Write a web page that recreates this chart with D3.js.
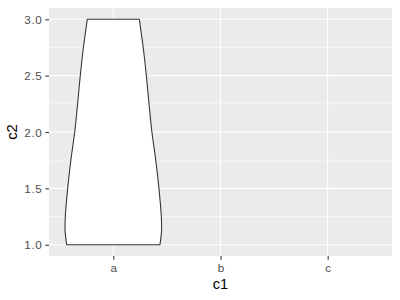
<!DOCTYPE html>
<html>
<head>
<meta charset="utf-8">
<script src="https://cdn.jsdelivr.net/npm/d3@7"></script>
<style>
  body { margin: 0; background: #fff; }
  text { font-family: "Liberation Sans", Arial, sans-serif; }
</style>
</head>
<body>
<script>
// categories on the x axis, only "a" has data
var categories = ["a", "b", "c"];
var yTicks = [1.0, 1.5, 2.0, 2.5, 3.0];
var yMinor = [1.25, 1.75, 2.25, 2.75];

// violin outline for "a": c2 level and relative half-width
var violinY = [1.0, 1.125, 1.25, 1.5, 1.75, 2.0, 2.25, 2.5, 2.75, 2.875, 3.0];
var violinW = [0.967, 1.0, 0.995, 0.946, 0.88, 0.80, 0.74, 0.685, 0.62, 0.58, 0.54];

var W = 400, H = 300;
var panel = { left: 49, right: 392, top: 8, bottom: 256 };
var tickLen = 3.67, tickPad = 2.93;

var svg = d3.select("body").append("svg")
    .attr("width", W)
    .attr("height", H);

var x = d3.scalePoint()
    .domain(categories)
    .range([panel.left, panel.right])
    .padding(0.6);

var y = d3.scaleLinear()
    .domain([0.9, 3.1])
    .range([panel.bottom, panel.top]);

// grey panel
svg.append("rect")
    .attr("x", panel.left)
    .attr("y", panel.top)
    .attr("width", panel.right - panel.left)
    .attr("height", panel.bottom - panel.top)
    .attr("fill", "#EBEBEB");

// minor grid
svg.selectAll(".minor").data(yMinor).enter().append("line")
    .attr("x1", panel.left).attr("x2", panel.right)
    .attr("y1", d => y(d)).attr("y2", d => y(d))
    .attr("stroke", "#fff").attr("stroke-width", 0.53);

// major grid
svg.selectAll(".hmajor").data(yTicks).enter().append("line")
    .attr("x1", panel.left).attr("x2", panel.right)
    .attr("y1", d => y(d)).attr("y2", d => y(d))
    .attr("stroke", "#fff").attr("stroke-width", 1.07);

svg.selectAll(".vmajor").data(categories).enter().append("line")
    .attr("x1", d => x(d)).attr("x2", d => x(d))
    .attr("y1", panel.top).attr("y2", panel.bottom)
    .attr("stroke", "#fff").attr("stroke-width", 1.07);

// violin
var half = x.step() * 0.9 / 2;
var cx = x("a");
var pts = violinY.map((v, i) => [cx - violinW[i] * half, y(v)]);
for (var i = violinY.length - 1; i >= 0; i--) {
    pts.push([cx + violinW[i] * half, y(violinY[i])]);
}
svg.append("path")
    .attr("d", d3.line().curve(d3.curveCatmullRom)(pts.slice(0, violinY.length)) +
        "L" + d3.line().curve(d3.curveCatmullRom)(pts.slice(violinY.length)).slice(1) + "Z")
    .attr("fill", "#fff")
    .attr("stroke", "#333333")
    .attr("stroke-width", 1.07)
    .attr("stroke-linejoin", "round");

// y axis
var yAxis = svg.append("g")
    .attr("transform", `translate(${panel.left},0)`)
    .call(d3.axisLeft(y).tickValues(yTicks).tickFormat(d3.format(".1f")).tickSize(tickLen).tickPadding(tickPad));
yAxis.select(".domain").remove();
yAxis.selectAll(".tick line").attr("stroke", "#333333").attr("stroke-width", 1.07);
yAxis.selectAll(".tick text")
    .attr("fill", "#4D4D4D")
    .attr("font-size", "11.7px")
    .attr("letter-spacing", "0.6px")
    .attr("font-family", "Liberation Sans, Arial, sans-serif")
    .attr("dy", "0.36em");

// x axis
var xAxis = svg.append("g")
    .attr("transform", `translate(0,${panel.bottom})`)
    .call(d3.axisBottom(x).tickSize(tickLen).tickPadding(tickPad));
xAxis.select(".domain").remove();
xAxis.selectAll(".tick line").attr("stroke", "#333333").attr("stroke-width", 1.07);
xAxis.selectAll(".tick text")
    .attr("fill", "#4D4D4D")
    .attr("font-size", "11.7px")
    .attr("font-family", "Liberation Sans, Arial, sans-serif")
    .attr("dy", "0.8em");

// axis titles
svg.append("text")
    .attr("x", (panel.left + panel.right) / 2)
    .attr("y", 288.5)
    .attr("text-anchor", "middle")
    .attr("font-size", "14.67px")
    .attr("fill", "#000")
    .text("c1");

svg.append("text")
    .attr("transform", `translate(17,${(panel.top + panel.bottom) / 2}) rotate(-90)`)
    .attr("text-anchor", "middle")
    .attr("font-size", "14.67px")
    .attr("fill", "#000")
    .text("c2");
</script>
</body>
</html>
